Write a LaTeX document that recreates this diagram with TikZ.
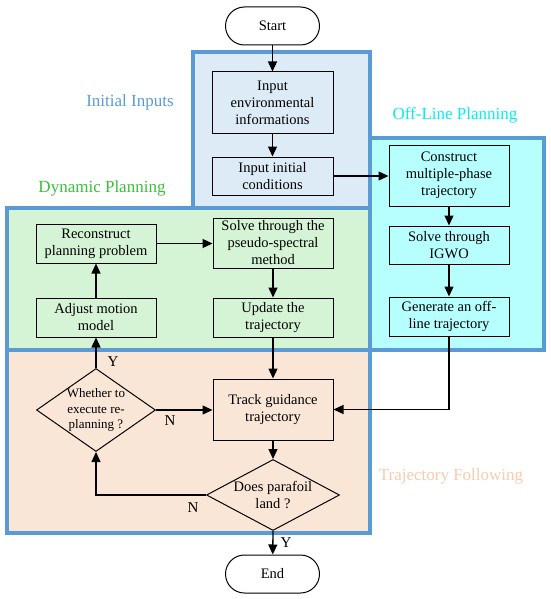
\documentclass[tikz,border=0pt]{standalone}
\usepackage{fontspec}
\setmainfont{Liberation Serif}
\usetikzlibrary{arrows.meta,shapes.geometric}
\definecolor{regborder}{RGB}{91,155,213}
\definecolor{iifill}{RGB}{221,235,247}
\definecolor{olfill}{RGB}{183,255,255}
\definecolor{dpfill}{RGB}{213,243,213}
\definecolor{tffill}{RGB}{250,230,215}
\definecolor{iitext}{RGB}{91,155,213}
\definecolor{dptext}{RGB}{60,190,60}
\definecolor{oltext}{RGB}{0,240,240}
\definecolor{tftext}{RGB}{248,203,173}
\begin{document}
\begin{tikzpicture}[x=1pt,y=-1pt,
  region/.style={draw=regborder,line width=3.5pt},
  boxtext/.style={font=\fontsize{14.5}{17}\selectfont},
  box/.style={draw,line width=1pt,minimum width=121pt,inner sep=1pt,align=center,boxtext},
  pill/.style={draw,line width=1pt,rounded corners=19pt,minimum width=94pt,minimum height=38pt,boxtext},
  dia/.style={draw,line width=1pt,diamond,inner sep=0pt},
  reglabel/.style={font=\fontsize{17}{20}\selectfont},
  yn/.style={font=\fontsize{15}{18}\selectfont},
  arr/.style={line width=1.3pt,-{Triangle[length=10pt,width=9pt]}}
]
\useasboundingbox (0,0) rectangle (550,599);
% region fills
\fill[iifill] (193,52) rectangle (370,208);
\fill[olfill] (370,138) rectangle (544,350);
\fill[dpfill] (7,208) rectangle (370,350);
\fill[tffill] (7,350) rectangle (370,533);
% region borders
\draw[region] (193,52) rectangle (370,208);
\draw[region] (370,138) rectangle (544,350);
\draw[region] (7,208) rectangle (370,350);
\draw[region] (7,350) rectangle (370,533);
% region labels
\node[reglabel,text=iitext] (lii) at (130,102) {Initial Inputs};
\node[reglabel,text=dptext] (ldp) at (102,188) {Dynamic Planning};
\node[reglabel,text=oltext] (lol) at (455,115) {Off-Line Planning};
\node[reglabel,text=tftext] (ltf) at (451,476) {Trajectory Following};
% nodes
\node[pill] (start) at (272.5,26) {Start};
\node[box,minimum height=61pt] (env) at (272.5,102.5) {Input\\environmental\\informations};
\node[box,minimum height=38pt] (init) at (272.5,176) {Input initial\\conditions};
\node[box,minimum width=120pt,minimum height=61pt] (cons) at (449,175.5) {Construct\\multiple-phase\\trajectory};
\node[box,minimum width=120pt,minimum height=38pt] (igwo) at (449,245) {Solve through\\IGWO};
\node[box,minimum width=120pt,minimum height=39pt] (gen) at (449,316.5) {Generate an off-\\line trajectory};
\node[box,minimum width=120pt,minimum height=39pt] (recon) at (96,243.5) {Reconstruct\\planning problem};
\node[box,minimum width=120pt,minimum height=50pt] (pseudo) at (273,243) {Solve through the\\pseudo-spectral\\method};
\node[box,minimum width=120pt,minimum height=39pt] (adjust) at (96,317.5) {Adjust motion\\model};
\node[box,minimum width=120pt,minimum height=39pt] (update) at (273,317.5) {Update the\\trajectory};
\node[box,minimum width=120pt,minimum height=61pt] (track) at (273,409.5) {Track guidance\\trajectory};
\node[dia,minimum width=119pt,minimum height=83pt] (whether) at (96,410) {};
\node[align=center,font=\fontsize{13}{15.5}\selectfont] (wtext) at (whether.center) {Whether to\\execute re-\\planning ?};
\node[dia,minimum width=133pt,minimum height=71pt] (land) at (273,495) {};
\node[align=center,boxtext] (ltext) at (land.center) {Does parafoil\\land ?};
\node[pill] (end) at (272.5,574) {End};
% connectors
\draw[arr] (start) -- (env);
\draw[arr] (env) -- (init);
\draw[arr] (init.east) -- (init.east -| cons.west);
\draw[arr] (cons) -- (igwo);
\draw[arr] (igwo) -- (gen);
\draw[arr] (gen.south) |- (track.east);
\draw[arr] (recon.east) -- (recon.east -| pseudo.west);
\draw[arr] (pseudo) -- (update);
\draw[arr] (update) -- (track);
\draw[arr] (track) -- (land);
\draw[arr] (land.west) -| (whether.south);
\draw[arr] (whether.east) -- (whether.east -| track.west);
\draw[arr] (whether.north) -- (adjust.south);
\draw[arr] (adjust) -- (recon);
\draw[arr] (land.south) -- (end);
% Y/N labels
\node[yn] (y1) at (113,362) {Y};
\node[yn] (n1) at (170,421) {N};
\node[yn] (n2) at (193,508) {N};
\node[yn] (y2) at (286,543) {Y};
\end{tikzpicture}
\end{document}
